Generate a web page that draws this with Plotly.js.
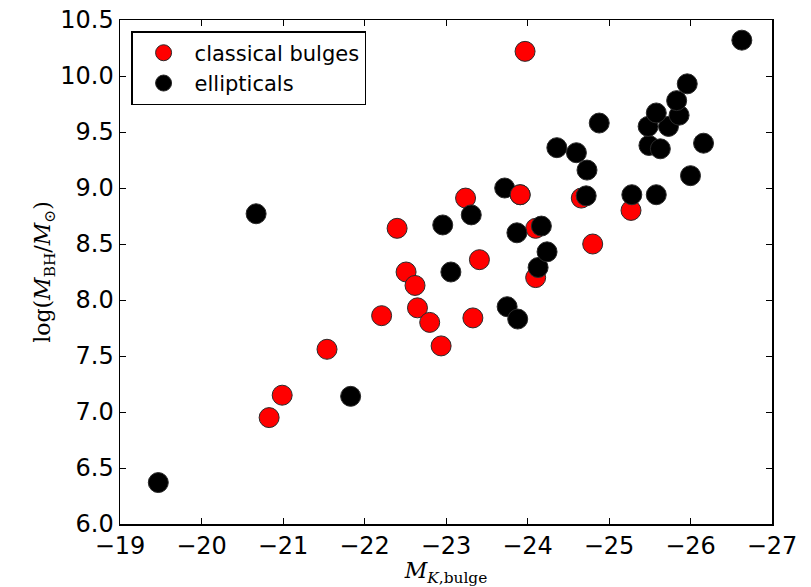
<!DOCTYPE html>
<html>
<head>
<meta charset="utf-8">
<script src="https://cdn.plot.ly/plotly-3.0.1.min.js"></script>
<style>html,body{margin:0;padding:0;background:#fff;}#chart{width:811px;height:587px;}</style>
</head>
<body>
<div id="chart"></div>
<script>
// Classical bulges (red)
const bulgesX = [-23.97, -23.24, -23.91, -22.40, -22.51, -22.62, -22.65, -22.80, -22.94, -22.21, -21.54, -20.99, -20.83, -23.33, -23.41, -24.10, -24.10, -24.80, -24.66, -25.27];
const bulgesY = [10.22, 8.91, 8.94, 8.64, 8.25, 8.13, 7.93, 7.80, 7.59, 7.86, 7.56, 7.15, 6.95, 7.84, 8.36, 8.64, 8.20, 8.50, 8.91, 8.80];
// index of bulge drawn above the ellipticals
const bulgesOnTop = [2];

// Ellipticals (black)
const ellX = [-19.47, -20.67, -21.83, -22.96, -23.06, -23.31, -23.72, -23.75, -23.87, -23.88, -24.13, -24.17, -24.24, -24.36, -24.60, -24.73, -24.72, -24.88, -25.28, -25.58, -26.00, -26.16, -25.49, -25.63, -25.48, -25.73, -25.58, -25.86, -25.83, -25.96, -26.63];
const ellY = [6.37, 8.77, 7.14, 8.67, 8.25, 8.76, 9.00, 7.94, 8.60, 7.83, 8.29, 8.66, 8.43, 9.36, 9.315, 9.16, 8.93, 9.58, 8.94, 8.94, 9.11, 9.40, 9.38, 9.35, 9.55, 9.55, 9.67, 9.65, 9.78, 9.93, 10.32];

const xTicks = [-19, -20, -21, -22, -23, -24, -25, -26, -27];
const yTicks = [6.0, 6.5, 7.0, 7.5, 8.0, 8.5, 9.0, 9.5, 10.0, 10.5];

const seriesNames = ['classical bulges', 'ellipticals'];

const mk = (color) => ({size: 20, color: color, line: {color: '#2a2a2a', width: 1}});

const traces = [
  {x: bulgesX, y: bulgesY, type: 'scatter', mode: 'markers', name: seriesNames[0], marker: mk('#ff0000'), hoverinfo: 'x+y'},
  {x: ellX, y: ellY, type: 'scatter', mode: 'markers', name: seriesNames[1], marker: mk('#000000'), hoverinfo: 'x+y'},
  {x: bulgesOnTop.map(i => bulgesX[i]), y: bulgesOnTop.map(i => bulgesY[i]), type: 'scatter', mode: 'markers', name: seriesNames[0], showlegend: false, marker: mk('#ff0000'), hoverinfo: 'x+y'}
];

const axisCommon = {
  showgrid: false, zeroline: false, showline: true, linecolor: '#000', linewidth: 1.5,
  mirror: 'ticks', ticks: 'inside', ticklen: 6, tickwidth: 1, tickcolor: '#000',
  tickfont: {family: 'DejaVu Sans, sans-serif', size: 24, color: '#000'},
  autorange: false
};

const layout = {
  width: 811, height: 587,
  margin: {l: 120, r: 39, t: 20, b: 63},
  paper_bgcolor: '#fff', plot_bgcolor: '#fff',
  showlegend: true,
  legend: {
    x: 0.017, y: 0.978, xanchor: 'left', yanchor: 'top',
    bgcolor: '#fff', bordercolor: '#000', borderwidth: 1.5,
    font: {family: 'DejaVu Sans, sans-serif', size: 21, color: '#000'},
    itemsizing: 'trace', itemwidth: 52, tracegroupgap: 0
  },
  xaxis: Object.assign({}, axisCommon, {
    range: [-19, -27], tickvals: xTicks, ticktext: xTicks.map(v => '\u2212' + Math.abs(v)),
    title: {text: '<i>M</i><sub><i>K</i>,bulge</sub>', font: {family: 'DejaVu Serif, serif', size: 22, color: '#000'}, standoff: 6}
  }),
  yaxis: Object.assign({}, axisCommon, {
    range: [6.0, 10.5], tickvals: yTicks, ticktext: yTicks.map(v => v.toFixed(1)),
    title: {text: 'log(<i>M</i><sub>BH</sub>/<i>M</i><sub>\u2299</sub>)', font: {family: 'DejaVu Serif, serif', size: 22, color: '#000'}, standoff: 3}
  })
};

Plotly.newPlot('chart', traces, layout, {displayModeBar: false, staticPlot: true});
</script>
</body>
</html>
